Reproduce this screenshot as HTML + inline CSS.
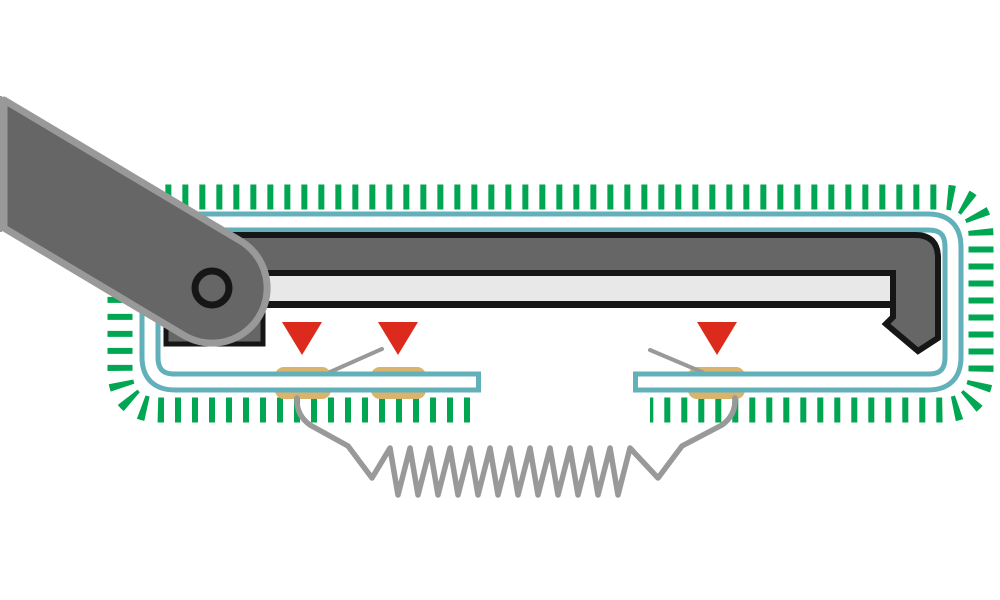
<!DOCTYPE html>
<html><head><meta charset="utf-8"><style>html,body{margin:0;padding:0;background:#fff}svg{display:block}</style></head>
<body>
<svg width="1000" height="600" viewBox="0 0 1000 600" xmlns="http://www.w3.org/2000/svg">
<path d="M 470 410 L 160 410 Q 120 410 120 370 L 120 237 Q 120 197 160 197 L 941 197 Q 981 197 981 237 L 981 370 Q 981 410 941 410 L 650 410" fill="none" stroke="#00a651" stroke-width="25" stroke-dasharray="6 11"/>
<rect x="275" y="367" width="56" height="32" rx="9" fill="#d8b46c"/>
<rect x="371" y="367" width="55" height="32" rx="9" fill="#d8b46c"/>
<rect x="688" y="367" width="57" height="32" rx="9" fill="#d8b46c"/>
<path d="M 330 372 L 382 349" stroke="#999" stroke-width="4" stroke-linecap="round" fill="none"/>
<path d="M 650 350 L 702 372" stroke="#999" stroke-width="4" stroke-linecap="round" fill="none"/>
<path d="M 481 382 L 175 382 Q 150 382 150 357 L 150 247 Q 150 222 175 222 L 928 222 Q 953 222 953 247 L 953 357 Q 953 382 928 382 L 633 382" fill="none" stroke="#62b1ba" stroke-width="21"/>
<path d="M 476 382 L 175 382 Q 150 382 150 357 L 150 247 Q 150 222 175 222 L 928 222 Q 953 222 953 247 L 953 357 Q 953 382 928 382 L 638 382" fill="none" stroke="#fff" stroke-width="11"/>
<path d="M 170 235 L 915 235 Q 938 235 938 258 L 938 338 L 918 351 L 886 324 L 893 317 L 893 305 L 170 305 Z" fill="#666" stroke="#161616" stroke-width="6"/>
<rect x="170" y="273" width="723" height="31" fill="#e8e8e8" stroke="#161616" stroke-width="6"/>
<rect x="166" y="298" width="97" height="46" fill="#666" stroke="#161616" stroke-width="5"/>
<path d="M 4 100 L 239 240 A 55 55 0 0 1 260 315 A 55 55 0 0 1 185 336 L 4 228 Z" fill="#666" stroke="#999" stroke-width="7" stroke-linejoin="round"/>
<rect x="-10" y="96" width="12" height="136" fill="#999"/>
<circle cx="212" cy="288" r="17" fill="#666" stroke="#161616" stroke-width="7"/>
<polygon points="282,322 322,322 302,355" fill="#dc2a1d"/>
<polygon points="378,322 418,322 398,355" fill="#dc2a1d"/>
<polygon points="697,322 737,322 717,355" fill="#dc2a1d"/>
<path d="M 297 398 Q 296 415 310 425 L 348 446 L 372 478 L 390 448 L 398 495 L 410 448 L 418 495 L 430 448 L 438 495 L 450 448 L 458 495 L 470 448 L 478 495 L 490 448 L 498 495 L 510 448 L 518 495 L 530 448 L 538 495 L 550 448 L 558 495 L 570 448 L 578 495 L 590 448 L 598 495 L 610 448 L 618 495 L 630 448 L 658 478 L 682 446 L 722 425 Q 736 415 735 398" fill="none" stroke="#999" stroke-width="5.5" stroke-linejoin="round" stroke-linecap="round"/>
</svg>
</body></html>
